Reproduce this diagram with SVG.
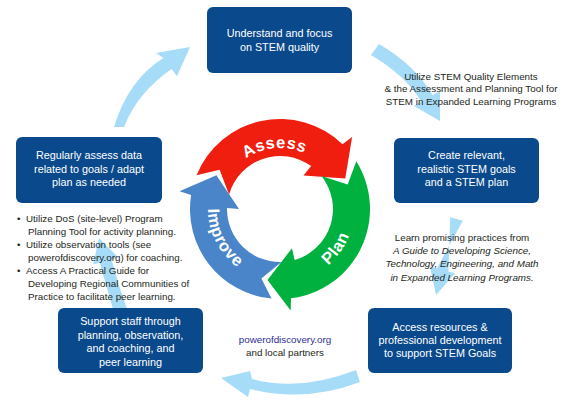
<svg xmlns="http://www.w3.org/2000/svg" width="568" height="404" viewBox="0 0 568 404">
<style>
.box{fill:#0a4a8c}
.bt{font-family:"Liberation Sans",Arial,sans-serif;font-size:10.8px;fill:#fff;text-anchor:middle}
.an{font-family:"Liberation Sans",Arial,sans-serif;font-size:9.8px;fill:#231f20}
.mid{text-anchor:middle}
.it{font-style:italic}
.flow{fill:#a6dcf7}
.cy{font-family:"Liberation Sans",Arial,sans-serif;font-weight:bold;font-size:16.5px;fill:#fff;letter-spacing:0.6px}
</style>
<defs>
<path id="pAssess" d="M230.03,174.01 A61,61 0 0 1 323.13,165.87"/>
<path id="pPlan" d="M299.15,280.48 A74,74 0 0 0 353.72,202.55"/>
<path id="pImprove" d="M214.75,178.57 A72,72 0 0 0 266.26,279.68"/>
</defs>
<rect width="568" height="404" fill="#fff"/>

<g id="connectors">
<path class="flow" d="M114,127 Q128,80 163.5,57.9 L156,53 L190,47 L177,76.3 L171.7,69.1 Q138,92 124,127 Z"/>
<path class="flow" d="M379,44 Q415,65 432.7,95.2 L440,90.9 L440,121 L414,105.9 L421.3,101.6 Q405,75 371,55 Z"/>
<path class="flow" d="M450.2,217.3 L448.4,271.4 L455.2,273.2 L436,295 L430,266.6 L436.8,268.4 L462.8,220.7 Z"/>
<path class="flow" d="M356,370 Q300,392 252,379 L250,371 L221,378 L248,397 L250,389 Q305,403 360,382 Z"/>
<path class="flow" d="M113,309 Q106,285 99.9,262.7 L93.2,264.6 L99,238 L118.2,257.4 L111.5,259.3 Q118,285 127,309 Z"/>
</g>

<g id="cycle">
<path id="assess" fill="#f01e0f" d="M196.55,175.29 A90,90 0 0 1 342.52,144.26 L352.12,136.88 L345.25,178.57 L303.52,175.41 L311.15,166.12 A53,53 0 0 0 229.05,194.39 L219.61,169.79 Z"/>
<path id="plan" fill="#00b140" d="M356.32,161.31 A90,90 0 0 1 290.97,298.33 L290.66,310.44 L267.5,279.91 L291.99,248.21 L294.61,259.95 A53,53 0 0 0 321.51,176.08 L347.66,184.38 Z"/>
<path id="improve" fill="#4a85c9" d="M271.53,298.6 A90,90 0 0 1 191.11,194.92 L179.55,191.29 L216.43,175.2 L239,209 L227.01,208.07 A53,53 0 0 0 281.48,261.98 L261.37,278.54 Z"/>
<text class="cy"><textPath href="#pAssess" startOffset="50%" text-anchor="middle">Assess</textPath></text>
<text class="cy"><textPath href="#pPlan" startOffset="50%" text-anchor="middle">Plan</textPath></text>
<text class="cy"><textPath href="#pImprove" startOffset="50%" text-anchor="middle">Improve</textPath></text>
</g>

<g id="n-understand">
<rect class="box" x="207" y="7" width="145" height="66" rx="6"/>
<text class="bt" x="279.5" y="37">Understand and focus</text>
<text class="bt" x="279.5" y="51">on STEM quality</text>
</g>

<g id="n-create">
<rect class="box" x="394" y="138" width="145" height="65" rx="6"/>
<text class="bt" x="466.5" y="159">Create relevant,</text>
<text class="bt" x="466.5" y="173">realistic STEM goals</text>
<text class="bt" x="466.5" y="186">and a STEM plan</text>
</g>

<g id="n-access">
<rect class="box" x="368" y="308" width="144" height="65" rx="6"/>
<text class="bt" x="440" y="331">Access resources &amp;</text>
<text class="bt" x="440" y="344">professional development</text>
<text class="bt" x="440" y="357">to support STEM Goals</text>
</g>

<g id="n-support">
<rect class="box" x="58" y="308" width="145" height="65" rx="6"/>
<text class="bt" x="130.5" y="325">Support staff through</text>
<text class="bt" x="130.5" y="339">planning, observation,</text>
<text class="bt" x="130.5" y="352">and coaching, and</text>
<text class="bt" x="130.5" y="366">peer learning</text>
</g>

<g id="n-regularly">
<rect class="box" x="16" y="137" width="146" height="66" rx="6"/>
<text class="bt" x="89" y="159">Regularly assess data</text>
<text class="bt" x="89" y="173">related to goals / adapt</text>
<text class="bt" x="89" y="186">plan as needed</text>
</g>

<g id="labels">
<text class="an mid" x="471" y="79.5">Utilize STEM Quality Elements</text>
<text class="an mid" x="471" y="92">&amp; the Assessment and Planning Tool for</text>
<text class="an mid" x="471" y="104.5">STEM in Expanded Learning Programs</text>

<text class="an mid" x="462" y="240.5">Learn promising practices from</text>
<text class="an mid it" x="462" y="253.5">A Guide to Developing Science,</text>
<text class="an mid it" x="462" y="266.5">Technology, Engineering, and Math</text>
<text class="an mid it" x="462" y="280.5">in Expanded Learning Programs.</text>

<text class="an mid" x="285" y="342.5" fill="#2e3192" style="fill:#2e3192">powerofdiscovery.org</text>
<text class="an mid" x="285" y="355.5">and local partners</text>

<text class="an" x="17" y="221.5">•</text>
<text class="an" x="26" y="221.5">Utilize DoS (site-level) Program</text>
<text class="an" x="28" y="234.5">Planning Tool for activity planning.</text>
<text class="an" x="17" y="247.5">•</text>
<text class="an" x="26" y="247.5">Utilize observation tools (see</text>
<text class="an" x="28" y="260.5">powerofdiscovery.org) for coaching.</text>
<text class="an" x="17" y="273.5">•</text>
<text class="an" x="26" y="273.5">Access A Practical Guide for</text>
<text class="an" x="28" y="286.5">Developing Regional Communities of</text>
<text class="an" x="28" y="299.5">Practice to facilitate peer learning.</text>
</g>
</svg>
